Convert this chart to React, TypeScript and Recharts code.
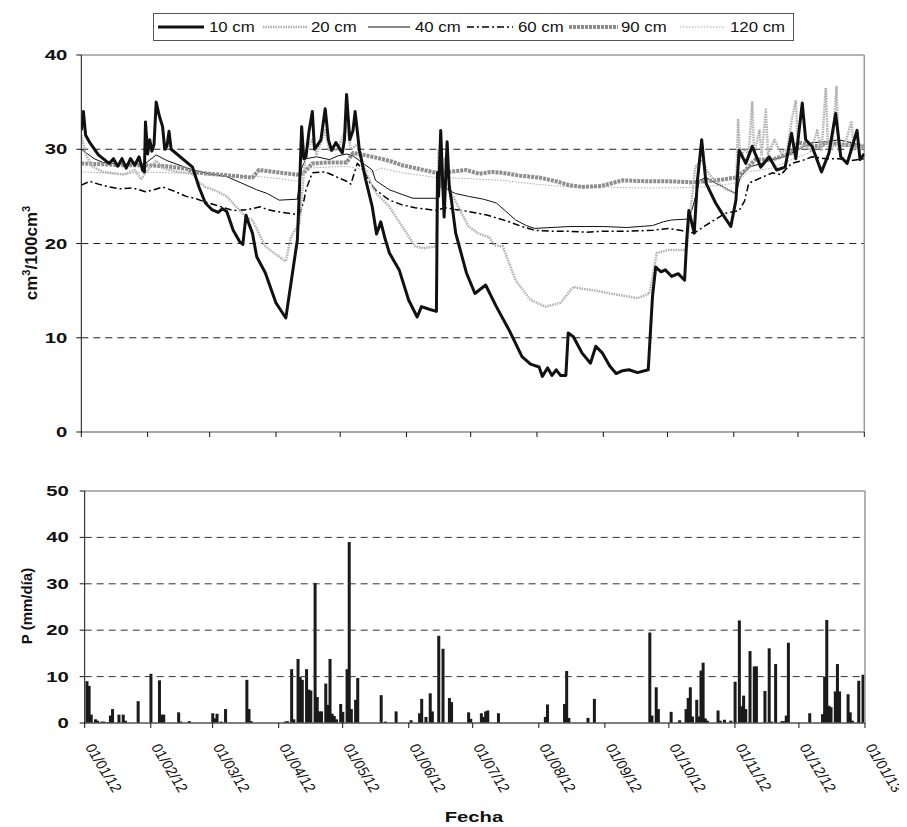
import React from "react";
import { LineChart, Line, XAxis, YAxis, ReferenceLine, BarChart, Bar } from "recharts";

const FONT = "'Liberation Sans', Arial, Helvetica, sans-serif";

// month boundaries as day-of-year (2012 is a leap year)
const monthTicks = [0, 31, 60, 91, 121, 152, 182, 213, 244, 274, 305, 335, 366];
const monthLabels = [
  "01/01/12", "01/02/12", "01/03/12", "01/04/12", "01/05/12", "01/06/12",
  "01/07/12", "01/08/12", "01/09/12", "01/10/12", "01/11/12", "01/12/12", "01/01/13",
];
const moistureTicks = [0, 10, 20, 30, 40];
const rainTicks = [0, 10, 20, 30, 40, 50];

// soil moisture (cm3/100cm3), [day, value]
const depth10: [number, number][] = [
  [0, 32], [1, 34], [2, 31.5], [4, 30.7], [8, 29.4], [13, 28.5], [15, 29], [17, 28.2], [19, 29],
  [21, 28], [23, 29], [25, 28.3], [27, 29.2], [28.6, 27.8], [29.5, 27.6], [30, 32.9], [31, 29.5],
  [32, 31], [33, 29.8], [34, 30.5], [35, 35], [36.5, 33.5], [38, 32.4], [39, 30], [40, 30.3],
  [41, 31.9], [42, 30], [52, 28.1], [55, 26], [58, 24.3], [61, 23.6], [64, 23.3], [66, 23.7],
  [68, 23.4], [71, 21.4], [74, 20.2], [75.5, 19.9], [77, 23], [78.5, 22], [80, 21.1], [82, 18.6],
  [86, 16.9], [91, 13.7], [93, 13], [95.6, 12.1], [101, 20.4], [102, 26], [103, 32.4], [104, 29],
  [105, 29.2], [106.5, 32], [108, 34], [109, 30], [110, 30.3], [112, 31], [114, 34.3], [115.5, 31],
  [117, 29.9], [119, 30.7], [122, 29.6], [123, 31], [124, 35.8], [125.5, 31], [127, 32], [128, 34],
  [130, 29.9], [133, 26.7], [136, 23.9], [138, 21], [140, 22.3], [142, 20.5], [144, 19],
  [148.6, 17.2], [153, 14], [157, 12.2], [159, 13.3], [163, 13], [166, 12.8], [166.5, 27.5],
  [167, 25], [168, 32], [169, 26], [169.6, 22.8], [171, 30.8], [172, 26], [173, 24.6], [175, 21.1],
  [180, 16.9], [184, 14.7], [189, 15.6], [194, 13.3], [200, 10.8], [206, 8], [210, 7.2], [214, 6.9],
  [215.5, 5.9], [218, 6.8], [220, 6], [222, 6.6], [224, 6], [226.5, 6], [227.6, 10.5], [230, 10.1],
  [234, 8.4], [238, 7.3], [240.5, 9.1], [243.5, 8.4], [247, 7], [250, 6.2], [253, 6.5], [256, 6.6],
  [260, 6.3], [265, 6.6], [267, 14.4], [268.5, 17.5], [271, 17], [273, 17.2], [276, 16.5],
  [279, 16.8], [282, 16.1], [283, 20.4], [284, 23.5], [286.5, 21.1], [288, 26.7], [290, 31],
  [292, 26.4], [296.5, 24.3], [299.5, 23.2], [303.6, 21.8], [306, 24.6], [307.5, 29.9],
  [310.6, 28.5], [313.6, 30.3], [317.6, 28.1], [321.5, 29.2], [325, 27.8], [329, 28.1], [332, 31.7],
  [334, 29], [337, 34.9], [338.6, 31], [341.6, 30.3], [346, 27.6], [349.5, 29.6], [352.6, 33.8],
  [355, 29.2], [358, 28.5], [360, 30], [362.6, 32], [364, 28.9], [366, 29.5],
];

const depth20: [number, number][] = [
  [0, 31.5], [2, 29.5], [5, 28.2], [10, 27.6], [20, 27.3], [25, 27.8], [28, 26.8], [30, 27.5],
  [35, 28.8], [38, 28], [45, 27.6], [52, 27.4], [55, 26.5], [58, 26], [63, 25.6], [68, 25],
  [72, 24], [77, 22.8], [80, 22.5], [86, 19.7], [90, 19], [95.6, 18.1], [98, 20.7], [102, 22.2],
  [105, 29.9], [108, 31], [110, 29.5], [114, 32], [116, 29.8], [120, 30], [124, 32.5], [126, 30],
  [129, 30.5], [133, 27.5], [138, 25.3], [144, 23.9], [150, 21.8], [156, 19.7], [160, 19.5],
  [166, 19.7], [167, 30], [168, 26], [170, 29], [173, 25.3], [176, 24], [181, 21.8], [186, 21],
  [190.6, 20.7], [193, 19.8], [197, 19.7], [203, 16.1], [210, 14], [217, 13.3], [224, 13.7],
  [230, 15.4], [234, 15.2], [238, 15.1], [247, 14.7], [255, 14.4], [260, 14.2], [265.6, 14.7],
  [269, 19], [274, 19.3], [276, 19.3], [283, 19.3], [284, 21.8], [287, 28.1], [290, 28.9],
  [293, 27.5], [296, 26.7], [301, 25.8], [306, 25.3], [307, 33.1], [308, 29], [310, 30],
  [312, 29.5], [313.6, 35], [314.5, 29.5], [317, 32], [318, 29.3], [320, 34.2], [321, 29.5],
  [324, 31], [327, 29.6], [330, 30], [332, 33], [334, 35.2], [335, 30], [338, 30.5], [341, 29.8],
  [344, 32], [346, 29.8], [348, 36.5], [349, 30.5], [351, 30], [353, 36.6], [354, 30.2],
  [357, 30.5], [360, 33], [361, 30], [364, 30.5], [366, 30.2],
];

const depth40: [number, number][] = [
  [0, 30], [3, 29.5], [6, 29], [10, 28.6], [20, 28.4], [30, 28.5], [35, 29.4], [40, 28.8],
  [52, 27.8], [60, 27.4], [68, 27.1], [75, 26.4], [82, 25.7], [87, 25.3], [92.5, 24.6],
  [101, 24.7], [103, 28], [105, 29], [110, 29.2], [116, 28.9], [120, 29.3], [124, 29.5],
  [127, 29.3], [130, 28.8], [136, 27.8], [137.5, 26.7], [144, 25.7], [150, 25.2], [155, 24.8],
  [166, 24.8], [168, 26.4], [172, 25.6], [175, 25.3], [181, 25], [188, 24.7], [194, 24.3],
  [198, 23.5], [203, 22.5], [208, 21.9], [212, 21.6], [220, 21.7], [228, 21.8], [236, 21.8],
  [244, 21.8], [255, 21.7], [267, 21.9], [272, 22.3], [276, 22.5], [284, 22.6], [286, 24],
  [289, 26.7], [292, 27], [296.5, 26.4], [300, 26], [306, 25.3], [308, 27], [312, 28.1],
  [318, 28.5], [323, 28.9], [328, 29.2], [332, 29.6], [337, 30.2], [341.6, 30.7], [348, 30.8],
  [354, 31], [360, 30.7], [366, 30.3],
];

const depth60: [number, number][] = [
  [0, 26.2], [4, 26.6], [8, 26.3], [13, 26], [18, 25.8], [24, 25.9], [30, 25.5], [34, 25.7],
  [38, 26], [44, 25.5], [49, 25], [53, 24.8], [58, 24.4], [64, 24], [71, 23.5], [78, 23.6],
  [83.6, 23.9], [87, 23.6], [91, 23.4], [100, 23.1], [102, 23.1], [104, 24.5], [105, 25.7],
  [108, 27.5], [114, 27.6], [118, 27.2], [124, 26.6], [126, 26.3], [129, 28.5], [132, 27.8],
  [135, 26.4], [137.5, 25.7], [144, 24.6], [150, 24.1], [156, 23.8], [166, 23.5], [170, 23.8],
  [175, 23.6], [181, 23.4], [190, 23], [200, 22.3], [206, 21.8], [212, 21.4], [220, 21.3],
  [228, 21.3], [236, 21.2], [244, 21.3], [255, 21.3], [267, 21.4], [274.5, 21.6], [280, 21.4],
  [286.5, 21.1], [291, 21.8], [296, 22.5], [301, 23.2], [307.5, 23.5], [310, 24.5], [312, 26.4],
  [318, 27], [323, 27.5], [327, 27.3], [332, 28.5], [337, 28.8], [341.6, 29.2], [348, 29],
  [354, 29], [360, 28.8], [366, 29],
];

const depth90: [number, number][] = [
  [0, 28.5], [10, 28.4], [20, 28.3], [30, 28.3], [40, 28.2], [50, 27.9], [52, 27.6], [60, 27.4],
  [70, 27.2], [80, 27], [83, 27.8], [90, 27.6], [101, 27.3], [104, 27.5], [108, 28.5], [116, 28.6],
  [124, 28.6], [127, 29.6], [132, 29.4], [136, 29.2], [140, 29], [145, 28.7], [150, 28.3],
  [158, 27.9], [166, 27.5], [172, 27.6], [180, 27.8], [186, 27.4], [192, 27.6], [197, 27.5],
  [205, 27.2], [214, 27], [222, 26.6], [228, 26.2], [234, 26], [243, 26.1], [253, 26.7],
  [264, 26.6], [274.5, 26.6], [285, 26.5], [292, 26.6], [300, 26.8], [306, 27], [310.6, 27.8],
  [315, 28.9], [323, 28.9], [328, 29.3], [332, 29.6], [335, 30.7], [340, 30.5], [345, 30.3],
  [348, 30.7], [356, 30.5], [366, 30.3],
];

const depth120: [number, number][] = [
  [0, 27.6], [10, 27.5], [20, 27.4], [30, 27.6], [40, 27.5], [50, 27.5], [61, 27.2], [72, 27.1],
  [83, 27.1], [92, 26.9], [101, 26.6], [105, 28], [115, 28.1], [124, 28.2], [130, 27.9],
  [136, 27.6], [140, 28], [150, 27.5], [166, 27], [180, 26.9], [197, 26.7], [212, 26.3],
  [228, 26], [244, 26], [260, 25.9], [276, 25.9], [291, 26], [306, 26.4], [312, 27.6], [323, 28],
  [332, 28.9], [340, 29.6], [345, 30.3], [355, 30.3], [366, 30.3],
];

// daily precipitation (mm/día), [day, mm]
const rainfall: [number, number][] = [
  [1, 9], [2, 8], [3, 1.8], [5, 0.8], [6, 0.5], [8, 0.3], [9, 0.3], [11, 0.2], [12, 1.6], [13, 3],
  [16, 1.8], [18, 1.8], [19, 0.5], [25, 4.7], [31, 10.6], [35, 9.2], [36, 1.8], [37, 1.8],
  [44, 2.3], [45, 0.3], [49, 0.4], [60, 2.1], [61, 1], [62, 2], [64, 0.3], [66, 3], [76, 9.3],
  [77, 3], [78, 0.4], [94, 0.3], [95, 0.4], [97, 11.6], [98, 0.8], [100, 13.8], [101, 9.9],
  [102, 9.3], [104, 11.6], [105, 7.2], [106, 7], [108, 30.2], [109, 5.6], [110, 2.5], [111, 2.5],
  [113, 8.5], [114, 3.9], [115, 13.8], [116, 2], [117, 1.5], [118, 0.8], [120, 4.1], [121, 2.4],
  [123, 11.6], [124, 39], [125, 3], [127, 5], [128, 9.7], [139, 6], [141, 0.3], [146, 2.5],
  [153, 0.6], [157, 2.1], [158, 5.2], [160, 1.3], [162, 6.4], [163, 2.5], [166, 18.8], [168, 16],
  [171, 5.4], [172, 4.5], [180, 2.3], [181, 0.9], [186, 2.1], [187, 1.3], [188, 2.5], [189, 2.7],
  [194, 2.1], [216, 1.3], [217, 4], [225, 4.1], [226, 11.2], [227, 1.1], [236, 1.1], [239, 5.2],
  [265, 19.5], [266, 1.6], [268, 7.7], [269, 3], [275, 2.4], [279, 0.6], [282, 3], [283, 5.4],
  [284, 7.7], [285, 1.4], [287, 5], [288, 1.4], [289, 11.3], [290, 13], [291, 1], [292, 0.5],
  [297, 2.7], [298, 0.5], [300, 0.7], [303, 0.5], [305, 8.9], [307, 22.1], [308, 3.6], [309, 5.9],
  [310, 3], [312, 15.5], [314, 12.2], [315, 12.2], [319, 6.9], [321, 16.1], [322, 0.3],
  [324, 12.7], [327, 0.4], [328, 0.4], [329, 1.6], [330, 17.3], [340, 2.1], [346, 1.9], [347, 10],
  [348, 22.2], [349, 3.7], [350, 3.4], [352, 6.8], [353, 12.7], [354, 6.8], [358, 6.2],
  [359, 2.3], [360, 0.5], [363, 9.1], [365, 10.4],
];

type Series = {
  key: string;
  label: string;
  points: [number, number][];
  stroke: string;
  width: number;
  dash?: string;
};

// drawing order: light/thick lines first so the 10 cm trace stays on top
const series: Series[] = [
  { key: "d120", label: "120 cm", points: depth120, stroke: "#a8a8a8", width: 1, dash: "1.5 1.5" },
  { key: "d60", label: "60 cm", points: depth60, stroke: "#000", width: 1.5, dash: "7 3 2 3" },
  { key: "d40", label: "40 cm", points: depth40, stroke: "#111", width: 1 },
  { key: "d90", label: "90 cm", points: depth90, stroke: "#8e8e8e", width: 4, dash: "3 1" },
  { key: "d20", label: "20 cm", points: depth20, stroke: "#b0b0b0", width: 2.5, dash: "1.5 1" },
  { key: "d10", label: "10 cm", points: depth10, stroke: "#111", width: 3 },
];

const legendOrder = ["d10", "d20", "d40", "d60", "d90", "d120"];
const legendLineX = [158, 263, 368, 467, 569, 680];
const legendLineW = [46, 45, 42, 46, 49, 45];
const legendTextX = [209, 311, 415, 518, 621, 730];

function mergeRows() {
  const rows = new Map<number, Record<string, number>>();
  for (const s of series) {
    for (const [day, v] of s.points) {
      const r = rows.get(day) ?? { day };
      r[s.key] = v;
      rows.set(day, r);
    }
  }
  return [...rows.values()].sort((a, b) => a.day - b.day);
}

const moistureRows = mergeRows();
const rainRows = rainfall.map(([day, mm]) => ({ day, mm }));

const ValueTick = (props: any) => {
  const { x, y, payload } = props;
  return (
    <text
      transform={`translate(${x},${y}) scale(1.45,1)`}
      textAnchor="end"
      dy="0.36em"
      fontFamily={FONT}
      fontWeight="bold"
      fontSize={14}
      fill="#111"
    >
      {payload.value}
    </text>
  );
};

const DateTick = (props: any) => {
  const { x, y, payload } = props;
  const label = monthLabels[monthTicks.indexOf(payload.value)] ?? "";
  return (
    <text
      transform={`translate(${x},${y + 17}) scale(1.15,1) rotate(62)`}
      textAnchor="start"
      fontFamily={FONT}
      fontSize={13.5}
      fill="#111"
    >
      {label}
    </text>
  );
};

const NoTick = () => <g />;

// bars are a fixed 3px wide, centred on their day
const RainBar = (props: any) => {
  const { x, y, width, height } = props;
  if (!height || height <= 0) return <g />;
  return <rect x={x + width / 2 - 1.5} y={y} width={3} height={height} fill="#1a1a1a" />;
};

function LegendBox() {
  return (
    <div
      style={{
        position: "absolute",
        left: 145,
        top: 5,
        width: 639,
        height: 26,
        border: "1px solid #555",
        background: "#fff",
      }}
    >
      {legendOrder.map((k, i) => {
        const s = series.find((x) => x.key === k)!;
        return (
          <React.Fragment key={k}>
            <svg
              style={{ position: "absolute", left: legendLineX[i] - 154, top: 8 }}
              width={legendLineW[i]}
              height={10}
            >
              <line
                x1={0}
                x2={legendLineW[i]}
                y1={5}
                y2={5}
                stroke={s.stroke}
                strokeWidth={s.width}
                strokeDasharray={s.dash}
              />
            </svg>
            <span
              style={{
                position: "absolute",
                left: legendTextX[i] - 154,
                top: 4,
                fontFamily: FONT,
                fontSize: 15,
                lineHeight: "17px",
                color: "#111",
                whiteSpace: "nowrap",
                transform: "scaleX(1.12)",
                transformOrigin: "left center",
              }}
            >
              {s.label}
            </span>
          </React.Fragment>
        );
      })}
    </div>
  );
}

function SideLabel({ cx, cy, children, size }: { cx: number; cy: number; size: number; children: React.ReactNode }) {
  return (
    <div
      style={{
        position: "absolute",
        left: cx - 100,
        top: cy - 12,
        width: 200,
        height: 24,
        lineHeight: "24px",
        textAlign: "center",
        fontFamily: FONT,
        fontWeight: "bold",
        fontSize: size,
        color: "#111",
        transform: "rotate(-90deg)",
        whiteSpace: "nowrap",
      }}
    >
      {children}
    </div>
  );
}

export default function App() {
  return (
    <div style={{ position: "relative", width: 899, height: 819, background: "#fff" }}>
      <LineChart
        width={880}
        height={450}
        data={moistureRows}
        margin={{ top: 47, right: 23.7, bottom: 16, left: 33.3 }}
      >
        <XAxis
          dataKey="day"
          type="number"
          domain={[0, 366]}
          ticks={monthTicks}
          interval={0}
          allowDataOverflow
          height={10}
          tickSize={5}
          tick={NoTick}
          axisLine={{ stroke: "#8a8a8a", strokeWidth: 1.5 }}
          tickLine={{ stroke: "#111" }}
        />
        <YAxis
          type="number"
          domain={[0, 40]}
          ticks={moistureTicks}
          interval={0}
          width={40}
          tickSize={5}
          tickMargin={9}
          tick={ValueTick}
          axisLine={{ stroke: "#111" }}
          tickLine={{ stroke: "#111" }}
        />
        {[10, 20, 30].map((v) => (
          <ReferenceLine key={v} y={v} stroke="#222" strokeDasharray="7 5" />
        ))}
        <ReferenceLine y={40} stroke="#9a9a9a" strokeWidth={1.5} />
        <ReferenceLine x={366} stroke="#9a9a9a" strokeWidth={1.5} />
        {series.map((s) => (
          <Line
            key={s.key}
            type="linear"
            dataKey={s.key}
            name={s.label}
            stroke={s.stroke}
            strokeWidth={s.width}
            strokeDasharray={s.dash}
            strokeLinejoin="round"
            dot={false}
            connectNulls
            isAnimationActive={false}
          />
        ))}
      </LineChart>

      <div style={{ position: "absolute", left: 0, top: 470 }}>
        <BarChart
          width={899}
          height={350}
          data={rainRows}
          margin={{ top: 13, right: 42, bottom: 25, left: 36.7 }}
        >
          <XAxis
            dataKey="day"
            type="number"
            domain={[0, 366]}
            ticks={monthTicks}
            interval={0}
            allowDataOverflow
            height={80}
            tickSize={5}
            tick={DateTick}
            axisLine={{ stroke: "#555", strokeWidth: 1.5 }}
            tickLine={{ stroke: "#111" }}
          />
          <YAxis
            type="number"
            domain={[0, 50]}
            ticks={rainTicks}
            interval={0}
            width={40}
            tickSize={5}
            tickMargin={11}
            tick={ValueTick}
            axisLine={{ stroke: "#111" }}
            tickLine={{ stroke: "#111" }}
          />
          {[10, 20, 30, 40].map((v) => (
            <ReferenceLine key={v} y={v} stroke="#333" strokeDasharray="7 5" />
          ))}
          <ReferenceLine y={50} stroke="#9a9a9a" strokeWidth={1.5} />
          <ReferenceLine x={366} stroke="#9a9a9a" strokeWidth={1.5} />
          <Bar dataKey="mm" fill="#1a1a1a" shape={RainBar} isAnimationActive={false} />
        </BarChart>
      </div>

      <LegendBox />
      <SideLabel cx={18} cy={245} size={17}>
        cm<sup style={{ fontSize: "0.65em" }}>3</sup>/100cm<sup style={{ fontSize: "0.65em" }}>3</sup>
      </SideLabel>
      <SideLabel cx={19} cy={598} size={15}>
        P (mm/día)
      </SideLabel>
      <div
        style={{
          position: "absolute",
          left: 416,
          top: 800,
          width: 100,
          textAlign: "center",
          fontFamily: FONT,
          fontWeight: "bold",
          fontSize: 15,
          lineHeight: "18px",
          color: "#111",
          transform: "scaleX(1.35)",
        }}
      >
        Fecha
      </div>
    </div>
  );
}
